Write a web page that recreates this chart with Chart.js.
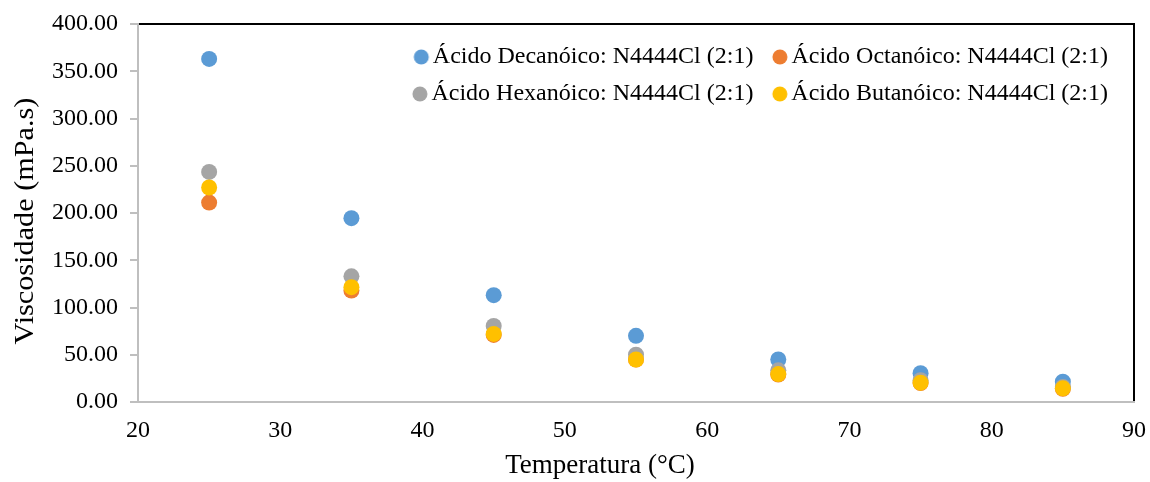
<!DOCTYPE html>
<html>
<head>
<meta charset="utf-8">
<title>Viscosidade vs Temperatura</title>
<script src="https://cdn.jsdelivr.net/npm/chart.js@4.4.1/dist/chart.umd.min.js"></script>
<style>
  html, body { margin: 0; padding: 0; background: #ffffff; }
  #wrap { width: 1150px; height: 482px; }
</style>
</head>
<body>
<div id="wrap"><canvas id="chart" width="1150" height="482"></canvas></div>
<script>
// Temperatures (°C) at which viscosity was measured
const temperatures = [25, 35, 45, 55, 65, 75, 85];

// Viscosity (mPa.s) for each deep eutectic solvent
const decanoico = [363.0, 194.5, 113.0, 70.0, 45.0, 30.5, 21.5];
const octanoico = [211.0, 118.0, 71.0, 45.0, 29.0, 20.0, 14.0];
const hexanoico = [243.5, 133.0, 80.5, 50.0, 33.5, 23.0, 16.0];
const butanoico = [227.0, 121.5, 72.0, 45.0, 29.5, 20.5, 14.5];

const seriesLabels = [
  'Ácido Decanóico: N4444Cl (2:1)',
  'Ácido Octanóico: N4444Cl (2:1)',
  'Ácido Hexanóico: N4444Cl (2:1)',
  'Ácido Butanóico: N4444Cl (2:1)'
];
const seriesColors = ['#5B9BD5', '#ED7D31', '#A5A5A5', '#FFC000'];

// Axis ranges and tick steps
const xRange = [20, 90];
const yRange = [0, 400];
const xStep = 10;
const yStep = 50;

const xTitle = 'Temperatura (°C)';
const yTitle = 'Viscosidade (mPa.s)';

const FONT = "'Liberation Serif', 'Times New Roman', serif";

// Legend key geometry
const LEGEND_BOX = 13;
const LEGEND_FONT = 24;

function toPoints(values) {
  return temperatures.map((t, i) => ({ x: t, y: values[i] }));
}

// Round legend key, drawn close to its label text
function legendDot(color) {
  const c = document.createElement('canvas');
  c.width = 40;
  c.height = 18;
  const g = c.getContext('2d');
  g.fillStyle = color;
  g.beginPath();
  g.arc(20 + LEGEND_BOX / 2 + 0.5, 9, 7.5, 0, Math.PI * 2);
  g.fill();
  return c;
}
const legendDots = seriesColors.map(legendDot);

const seriesValues = [decanoico, octanoico, hexanoico, butanoico];
const datasets = seriesValues.map((vals, i) => ({
  label: seriesLabels[i],
  data: toPoints(vals),
  backgroundColor: seriesColors[i],
  borderColor: seriesColors[i],
  pointRadius: 8,
  pointHoverRadius: 8,
  pointBorderWidth: 0,
  pointStyle: 'circle',
  // later series are painted over earlier ones
  order: seriesValues.length - i
}));

// Black frame around the plot area (left/bottom get covered by the grey axes)
const plotFrame = {
  id: 'plotFrame',
  beforeDraw(chart) {
    const { ctx, chartArea: a } = chart;
    ctx.save();
    ctx.strokeStyle = '#000000';
    ctx.lineWidth = 2;
    ctx.strokeRect(a.left, a.top, a.right - a.left, a.bottom - a.top);
    ctx.restore();
  }
};

// Move the legend inside the upper right of the plot area
const legendPlacement = {
  id: 'legendPlacement',
  afterLayout(chart) {
    const lg = chart.legend;
    const a = chart.chartArea;
    if (!lg) return;
    lg.left = a.left;
    lg.right = a.right - 13;
    lg.width = lg.right - lg.left;
    lg.top = a.top + 8;
    lg.bottom = a.top + 130;
    lg.height = lg.bottom - lg.top;
  }
};

// Axis titles
const axisTitles = {
  id: 'axisTitles',
  afterDraw(chart) {
    const { ctx } = chart;
    ctx.save();
    ctx.fillStyle = '#000000';
    ctx.font = '27px ' + FONT;
    ctx.textAlign = 'center';
    ctx.textBaseline = 'middle';
    ctx.fillText(xTitle, 600, 466);
    ctx.translate(26, 221);
    ctx.rotate(-Math.PI / 2);
    ctx.scale(1.12, 1);
    ctx.fillText(yTitle, 0, 0);
    ctx.restore();
  }
};

new Chart(document.getElementById('chart'), {
  type: 'scatter',
  data: { datasets },
  plugins: [plotFrame, legendPlacement, axisTitles],
  options: {
    responsive: false,
    animation: false,
    devicePixelRatio: 1,
    layout: { padding: { top: 20, right: 16, bottom: 0, left: 0 } },
    plugins: {
      tooltip: { enabled: false },
      legend: {
        position: 'top',
        align: 'end',
        fullSize: false,
        maxHeight: 1,
        labels: {
          usePointStyle: true,
          boxWidth: LEGEND_BOX,
          boxHeight: 10,
          padding: 13,
          color: '#000000',
          font: { family: FONT, size: LEGEND_FONT },
          sort: (a, b) => a.datasetIndex - b.datasetIndex,
          generateLabels(chart) {
            const items = Chart.defaults.plugins.legend.labels.generateLabels(chart);
            items.forEach((it) => { it.pointStyle = legendDots[it.datasetIndex]; });
            return items;
          }
        }
      }
    },
    scales: {
      x: {
        type: 'linear',
        position: 'bottom',
        min: xRange[0],
        max: xRange[1],
        ticks: {
          stepSize: xStep,
          color: '#000000',
          padding: 0,
          maxRotation: 0,
          font: { family: FONT, size: 24 }
        },
        // no visible tick marks; their length only spaces the labels
        grid: { display: false, drawTicks: true, tickLength: 14 },
        border: { display: true, color: '#BFBFBF', width: 2 },
        title: { display: false },
        afterFit(scale) { scale.height = 80; }
      },
      y: {
        type: 'linear',
        position: 'left',
        min: yRange[0],
        max: yRange[1],
        ticks: {
          stepSize: yStep,
          color: '#000000',
          padding: 12,
          font: { family: FONT, size: 24, lineHeight: 1 },
          callback: (v) => Number(v).toFixed(2)
        },
        grid: {
          display: true,
          drawOnChartArea: false,
          drawTicks: true,
          tickLength: 8,
          color: '#BFBFBF',
          lineWidth: 2
        },
        border: { display: true, color: '#BFBFBF', width: 2 },
        title: { display: false },
        afterFit(scale) { scale.width = 138; }
      }
    }
  }
});
</script>
</body>
</html>
